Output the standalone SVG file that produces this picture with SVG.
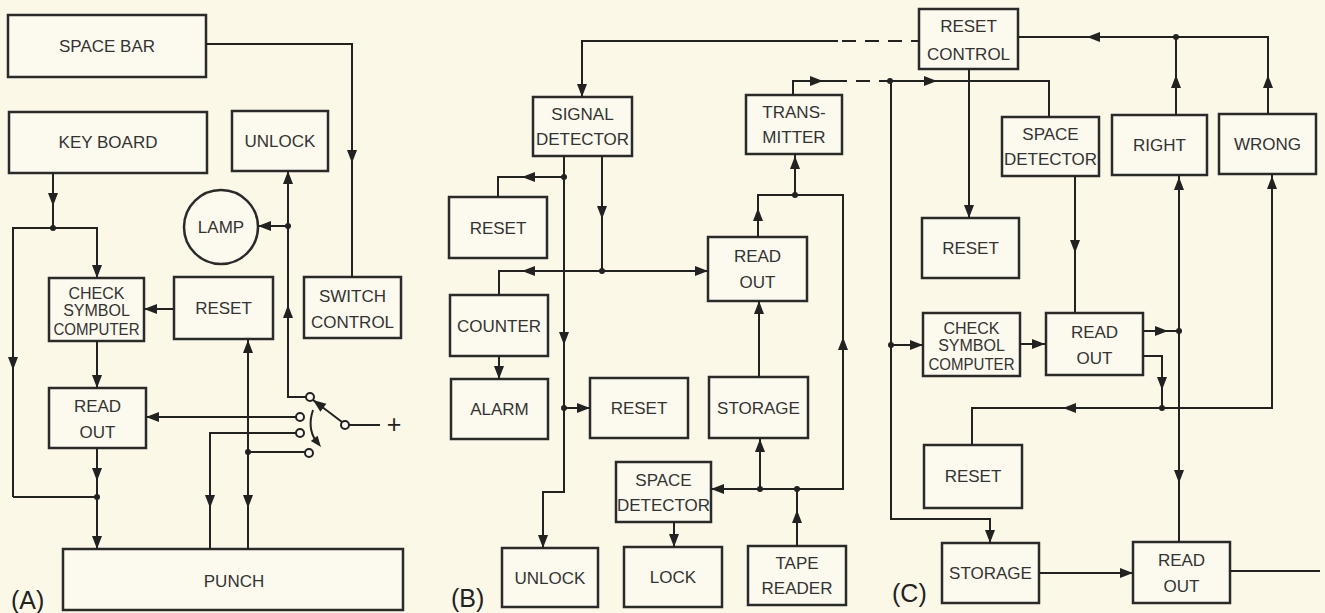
<svg xmlns="http://www.w3.org/2000/svg" width="1325" height="613" viewBox="0 0 1325 613">
<style>
.bg{fill:#fbf8e8}
.box{fill:#fcfaee;stroke:#2a2a2a;stroke-width:2.5}
.ln{fill:none;stroke:#222;stroke-width:2}
.dash{fill:none;stroke:#222;stroke-width:2;stroke-dasharray:14 9}
.t{font-family:"Liberation Sans",Arial,sans-serif;font-size:17px;fill:#333;text-anchor:middle}
.t3{font-family:"Liberation Sans",Arial,sans-serif;font-size:16px;fill:#333;text-anchor:middle}
.lab{font-family:"Liberation Sans",Arial,sans-serif;font-size:25px;fill:#222}
.dot{fill:#222}
.ct{fill:#fcfaee;stroke:#222;stroke-width:2}
.ah{fill:#222}
</style>
<defs>
<path id="ah" class="ah" d="M0,0 L-13,-5 L-13,5 Z"/>
</defs>
<rect class="bg" x="0" y="0" width="1325" height="613"/>

<!-- Panel A nodes -->
<g id="space_bar"><rect class="box" x="8" y="15" width="198" height="62"/><text class="t" x="107" y="52">SPACE BAR</text></g>
<g id="key_board"><rect class="box" x="9" y="112" width="198" height="61"/><text class="t" x="108" y="148">KEY BOARD</text></g>
<g id="unlock_a"><rect class="box" x="232" y="111" width="96" height="60"/><text class="t" x="280" y="147">UNLOCK</text></g>
<g id="lamp"><circle class="box" cx="221" cy="227" r="37"/><text class="t" x="221" y="233">LAMP</text></g>
<g id="csc_a"><rect class="box" x="49" y="278" width="95" height="63"/><text class="t3" x="96.5" y="299">CHECK</text><text class="t3" x="96.5" y="316">SYMBOL</text><text class="t3" x="96.5" y="335" textLength="86" lengthAdjust="spacingAndGlyphs">COMPUTER</text></g>
<g id="reset_a"><rect class="box" x="174" y="277" width="99" height="62"/><text class="t" x="223.5" y="314">RESET</text></g>
<g id="switch_control"><rect class="box" x="304" y="277" width="97" height="61"/><text class="t" x="352.5" y="302">SWITCH</text><text class="t" x="352.5" y="328">CONTROL</text></g>
<g id="readout_a"><rect class="box" x="49" y="388" width="97" height="60"/><text class="t" x="97.5" y="412">READ</text><text class="t" x="97.5" y="438">OUT</text></g>
<g id="punch"><rect class="box" x="63" y="549" width="340" height="61"/><text class="t" x="234" y="587">PUNCH</text></g>
<text class="lab" x="11" y="609">(A)</text>

<!-- Panel B nodes -->
<g id="signal_detector"><rect class="box" x="533" y="97" width="99" height="59"/><text class="t" x="582.5" y="120">SIGNAL</text><text class="t" x="582.5" y="145">DETECTOR</text></g>
<g id="transmitter"><rect class="box" x="746" y="95" width="96" height="59"/><text class="t" x="794" y="118">TRANS-</text><text class="t" x="794" y="143">MITTER</text></g>
<g id="reset_b1"><rect class="box" x="449" y="197" width="98" height="61"/><text class="t" x="498" y="234">RESET</text></g>
<g id="readout_b"><rect class="box" x="708" y="237" width="99" height="64"/><text class="t" x="757.5" y="262">READ</text><text class="t" x="757.5" y="288">OUT</text></g>
<g id="counter"><rect class="box" x="450" y="295" width="98" height="61"/><text class="t" x="499" y="332">COUNTER</text></g>
<g id="alarm"><rect class="box" x="451" y="379" width="97" height="60"/><text class="t" x="499.5" y="415">ALARM</text></g>
<g id="reset_b2"><rect class="box" x="590" y="378" width="98" height="60"/><text class="t" x="639" y="414">RESET</text></g>
<g id="storage_b"><rect class="box" x="709" y="377" width="99" height="61"/><text class="t" x="758.5" y="414">STORAGE</text></g>
<g id="space_detector_b"><rect class="box" x="616" y="462" width="95" height="60"/><text class="t" x="663.5" y="486">SPACE</text><text class="t" x="663.5" y="511">DETECTOR</text></g>
<g id="unlock_b"><rect class="box" x="502" y="548" width="96" height="59"/><text class="t" x="550" y="584">UNLOCK</text></g>
<g id="lock"><rect class="box" x="624" y="547" width="98" height="60"/><text class="t" x="673" y="583">LOCK</text></g>
<g id="tape_reader"><rect class="box" x="748" y="546" width="98" height="59"/><text class="t" x="797" y="569">TAPE</text><text class="t" x="797" y="594">READER</text></g>
<text class="lab" x="451" y="607">(B)</text>

<!-- Panel C nodes -->
<g id="reset_control"><rect class="box" x="919" y="9" width="99" height="60"/><text class="t" x="968.5" y="32">RESET</text><text class="t" x="968.5" y="60">CONTROL</text></g>
<g id="space_detector_c"><rect class="box" x="1002" y="117" width="97" height="59"/><text class="t" x="1050.5" y="140">SPACE</text><text class="t" x="1050.5" y="165">DETECTOR</text></g>
<g id="right"><rect class="box" x="1112" y="115" width="95" height="60"/><text class="t" x="1159.5" y="151">RIGHT</text></g>
<g id="wrong"><rect class="box" x="1219" y="114" width="97" height="60"/><text class="t" x="1267.5" y="150">WRONG</text></g>
<g id="reset_c1"><rect class="box" x="922" y="218" width="97" height="60"/><text class="t" x="970.5" y="254">RESET</text></g>
<g id="csc_c"><rect class="box" x="923" y="313" width="97" height="63"/><text class="t3" x="971.5" y="334">CHECK</text><text class="t3" x="971.5" y="351">SYMBOL</text><text class="t3" x="971.5" y="370" textLength="86" lengthAdjust="spacingAndGlyphs">COMPUTER</text></g>
<g id="readout_c1"><rect class="box" x="1046" y="313" width="97" height="62"/><text class="t" x="1094.5" y="338">READ</text><text class="t" x="1094.5" y="364">OUT</text></g>
<g id="reset_c2"><rect class="box" x="924" y="445" width="98" height="63"/><text class="t" x="973" y="482">RESET</text></g>
<g id="storage_c"><rect class="box" x="942" y="543" width="97" height="60"/><text class="t" x="990.5" y="579">STORAGE</text></g>
<g id="readout_c2"><rect class="box" x="1133" y="542" width="97" height="61"/><text class="t" x="1181.5" y="566">READ</text><text class="t" x="1181.5" y="592">OUT</text></g>
<text class="lab" x="892" y="602">(C)</text>

<!-- Connectors -->
<g id="connectors">
<!-- Panel A -->
<path class="ln" d="M206,44 H352 V277"/>
<use href="#ah" transform="translate(352,163) rotate(90)"/>
<path class="ln" d="M53,173 V228"/>
<use href="#ah" transform="translate(53,206) rotate(90)"/>
<path class="ln" d="M13,497 V228 H97 V278"/>
<circle class="dot" cx="53" cy="228" r="3"/>
<use href="#ah" transform="translate(97,278) rotate(90)"/>
<use href="#ah" transform="translate(13,370) rotate(90)"/>
<path class="ln" d="M13,497 H97"/>
<path class="ln" d="M97,341 V388"/>
<use href="#ah" transform="translate(97,388) rotate(90)"/>
<path class="ln" d="M97,448 V549"/>
<use href="#ah" transform="translate(97,481) rotate(90)"/>
<circle class="dot" cx="97" cy="497" r="3"/>
<use href="#ah" transform="translate(97,549) rotate(90)"/>
<path class="ln" d="M174,309 H144"/>
<use href="#ah" transform="translate(144,309) rotate(180)"/>
<path class="ln" d="M288,171 V397 H306"/>
<use href="#ah" transform="translate(288,171) rotate(-90)"/>
<use href="#ah" transform="translate(288,305) rotate(-90)"/>
<circle class="dot" cx="288" cy="226" r="3"/>
<path class="ln" d="M288,226 H258"/>
<use href="#ah" transform="translate(258,226) rotate(180)"/>
<path class="ln" d="M296,417 H146"/>
<use href="#ah" transform="translate(146,417) rotate(180)"/>
<path class="ln" d="M296,433 H210 V549"/>
<use href="#ah" transform="translate(210,508) rotate(90)"/>
<path class="ln" d="M248,339 V549"/>
<use href="#ah" transform="translate(248,340) rotate(-90)"/>
<use href="#ah" transform="translate(248,508) rotate(90)"/>
<circle class="dot" cx="248" cy="452" r="3"/>
<path class="ln" d="M248,452 H305"/>
<!-- switch -->
<path class="ln" d="M342,422 L313,400"/>
<use href="#ah" transform="translate(313,400) rotate(217)"/>
<path class="ln" d="M349,425 H380"/>
<text class="lab" x="394" y="433" text-anchor="middle">+</text>
<path class="ln" d="M313,410 Q307,428 316,441"/>
<use href="#ah" transform="translate(321,447) rotate(52) scale(0.85)"/>
<circle class="ct" cx="310" cy="397" r="4"/>
<circle class="ct" cx="300" cy="417" r="4"/>
<circle class="ct" cx="300" cy="433" r="4"/>
<circle class="ct" cx="309" cy="453" r="4"/>
<circle class="ct" cx="345" cy="425" r="4"/>

<!-- Panel B -->
<path class="ln" d="M838,41 H582 V97"/>
<path class="dash" d="M842,41 H919"/>
<use href="#ah" transform="translate(582,97) rotate(90)"/>
<path class="ln" d="M564,156 V492 H543 V548"/>
<use href="#ah" transform="translate(543,548) rotate(90)"/>
<circle class="dot" cx="564" cy="177" r="3"/>
<path class="ln" d="M564,177 H498 V197"/>
<use href="#ah" transform="translate(522,177) rotate(180)"/>
<use href="#ah" transform="translate(564,345) rotate(90)"/>
<circle class="dot" cx="564" cy="408" r="3"/>
<path class="ln" d="M564,408 H590"/>
<use href="#ah" transform="translate(590,408) rotate(0)"/>
<path class="ln" d="M602,156 V271"/>
<use href="#ah" transform="translate(602,219) rotate(90)"/>
<circle class="dot" cx="602" cy="271" r="3"/>
<path class="ln" d="M499,295 V271 H708"/>
<use href="#ah" transform="translate(708,271) rotate(0)"/>
<use href="#ah" transform="translate(522,271) rotate(180)"/>
<path class="ln" d="M499,356 V379"/>
<use href="#ah" transform="translate(499,379) rotate(90)"/>
<path class="ln" d="M674,522 V547"/>
<use href="#ah" transform="translate(674,547) rotate(90)"/>
<path class="ln" d="M758,237 V195 H843 V489 H711"/>
<use href="#ah" transform="translate(758,208) rotate(-90)"/>
<use href="#ah" transform="translate(843,337) rotate(-90)"/>
<use href="#ah" transform="translate(711,489) rotate(180)"/>
<circle class="dot" cx="795" cy="195" r="3"/>
<path class="ln" d="M795,195 V154"/>
<use href="#ah" transform="translate(795,156) rotate(-90)"/>
<path class="ln" d="M759,377 V301"/>
<use href="#ah" transform="translate(759,301) rotate(-90)"/>
<path class="ln" d="M760,489 V438"/>
<use href="#ah" transform="translate(760,439) rotate(-90)"/>
<circle class="dot" cx="760" cy="489" r="3"/>
<path class="ln" d="M797,546 V489"/>
<use href="#ah" transform="translate(797,510) rotate(-90)"/>
<circle class="dot" cx="797" cy="489" r="3"/>
<path class="ln" d="M793,95 V81 H833"/>
<use href="#ah" transform="translate(823,81) rotate(0)"/>
<path class="dash" d="M833,81 H890"/>

<!-- Panel C -->
<path class="ln" d="M890,81 H1049 V117"/>
<use href="#ah" transform="translate(937,81) rotate(0)"/>
<circle class="dot" cx="890" cy="81" r="3"/>
<path class="ln" d="M891,81 V519 H990 V543"/>
<use href="#ah" transform="translate(990,543) rotate(90)"/>
<circle class="dot" cx="891" cy="345" r="3"/>
<path class="ln" d="M891,345 H923"/>
<use href="#ah" transform="translate(923,345) rotate(0)"/>
<path class="ln" d="M969,69 V218"/>
<use href="#ah" transform="translate(969,218) rotate(90)"/>
<path class="ln" d="M1075,176 V313"/>
<use href="#ah" transform="translate(1075,253) rotate(90)"/>
<path class="ln" d="M1020,344 H1046"/>
<use href="#ah" transform="translate(1045,344) rotate(0)"/>
<path class="ln" d="M1143,331 H1179"/>
<use href="#ah" transform="translate(1168,331) rotate(0)"/>
<circle class="dot" cx="1179" cy="331" r="3"/>
<path class="ln" d="M1143,356 H1162 V408"/>
<use href="#ah" transform="translate(1162,390) rotate(90)"/>
<circle class="dot" cx="1162" cy="408" r="3"/>
<path class="ln" d="M972,445 V408 H1272 V174"/>
<use href="#ah" transform="translate(1063,408) rotate(180)"/>
<use href="#ah" transform="translate(1272,176) rotate(-90)"/>
<path class="ln" d="M1179,175 V542"/>
<use href="#ah" transform="translate(1179,177) rotate(-90)"/>
<use href="#ah" transform="translate(1179,483) rotate(90)"/>
<path class="ln" d="M1176,115 V37"/>
<use href="#ah" transform="translate(1176,75) rotate(-90)"/>
<path class="ln" d="M1268,114 V37 H1018"/>
<use href="#ah" transform="translate(1268,75) rotate(-90)"/>
<use href="#ah" transform="translate(1087,37) rotate(180)"/>
<circle class="dot" cx="1176" cy="37" r="3"/>
<path class="ln" d="M1039,573 H1133"/>
<use href="#ah" transform="translate(1133,573) rotate(0)"/>
<path class="ln" d="M1230,571 H1320"/>
</g>
</svg>
